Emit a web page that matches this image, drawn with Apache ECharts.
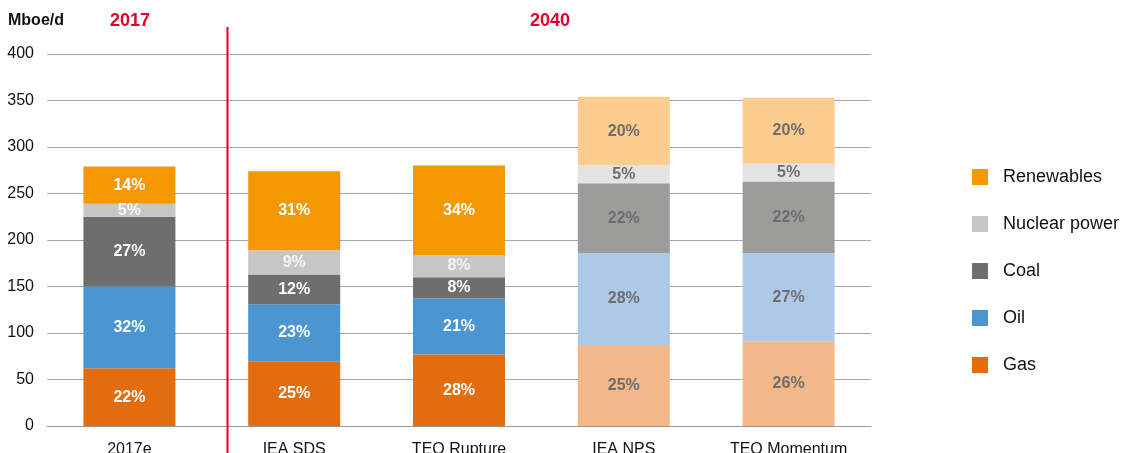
<!DOCTYPE html>
<html><head><meta charset="utf-8">
<script src="https://cdn.jsdelivr.net/npm/echarts@6/dist/echarts.min.js"></script>
<style>html,body{margin:0;padding:0;background:#fff}#c{width:1128px;height:453px}</style>
</head><body><div id="c"></div>
<script>
const categories = ['2017e','IEA SDS','TEO Rupture','IEA NPS','TEO Momentum'];
const yTicks = [0,50,100,150,200,250,300,350,400];
const gas = [62, 69, 77, 87, 91];
const oil = [88, 62, 60, 99, 95];
const coal = [75, 32, 23, 75, 77];
const nuclear = [14, 26, 24, 19, 19];
const renewables = [40, 85, 96, 74, 71];
const gasPct = ['22%','25%','28%','25%','26%'];
const oilPct = ['32%','23%','21%','28%','27%'];
const coalPct = ['27%','12%','8%','22%','22%'];
const nuclearPct = ['5%','9%','8%','5%','5%'];
const renewablesPct = ['14%','31%','34%','20%','20%'];
const lightIdx = [3,4];

const FONT = '"Liberation Sans", Arial, sans-serif';
function mk(name, vals, pcts, color, light, labelColor) {
  return {
    name, type:'bar', stack:'t', barWidth: 92,
    itemStyle:{color},
    label:{show:true, position:'inside', fontFamily:FONT, fontWeight:'bold', fontSize:16,
      color: labelColor, formatter: p => pcts[p.dataIndex]},
    data: vals.map((v,i)=> lightIdx.includes(i) ? {value:v, itemStyle:{color:light}, label:{color:'#6d6d6d'}} : v)
  };
}
const chart = echarts.init(document.getElementById('c'));
chart.setOption({
  animation:false,
  textStyle:{fontFamily:FONT},
  grid:{left:47, right:257, top:54, bottom:27, containLabel:false, outerBoundsMode:'none'},
  title:[
    {text:'Mboe/d', left:8, top:13, padding:0, textStyle:{fontFamily:FONT, fontSize:16, fontWeight:'bold', color:'#111'}},
    {text:'2017', left:110, top:12, padding:0, textStyle:{fontFamily:FONT, fontSize:18, fontWeight:'bold', color:'#e2002b'}},
    {text:'2040', left:530, top:12, padding:0, textStyle:{fontFamily:FONT, fontSize:18, fontWeight:'bold', color:'#e2002b'}}
  ],
  legend:{orient:'vertical', left:972, top:168, padding:0, itemWidth:16, itemHeight:16, itemGap:29,
    icon:'rect', data:['Renewables','Nuclear power','Coal','Oil','Gas'],
    textStyle:{fontFamily:FONT, fontSize:18, color:'#111', padding:[0,0,0,10]}},
  xAxis:{type:'category', data:categories,
    axisLine:{lineStyle:{color:'#999'}}, axisTick:{show:false},
    axisLabel:{fontFamily:FONT, fontSize:16, color:'#111', margin:16}},
  yAxis:{type:'value', min:0, max:400, interval:50,
    axisLine:{show:false}, axisTick:{show:false},
    splitLine:{lineStyle:{color:'#a6a6a6'}},
    axisLabel:{fontFamily:FONT, fontSize:16, color:'#111', margin:13}},
  graphic:[{type:'line', shape:{x1:227.5,y1:27,x2:227.5,y2:453}, style:{stroke:'#e2002b', lineWidth:2}, z:100}],
  series:[
    mk('Gas', gas, gasPct, '#e36c0e', '#f2b889', '#fff'),
    mk('Oil', oil, oilPct, '#4a96d2', '#aec8e8', '#fff'),
    mk('Coal', coal, coalPct, '#6e6e6e', '#9c9c9b', '#fff'),
    mk('Nuclear power', nuclear, nuclearPct, '#c6c6c6', '#e3e3e3', '#f4f4f4'),
    mk('Renewables', renewables, renewablesPct, '#f39800', '#fdcd8f', '#fff')
  ]
});
</script></body></html>
